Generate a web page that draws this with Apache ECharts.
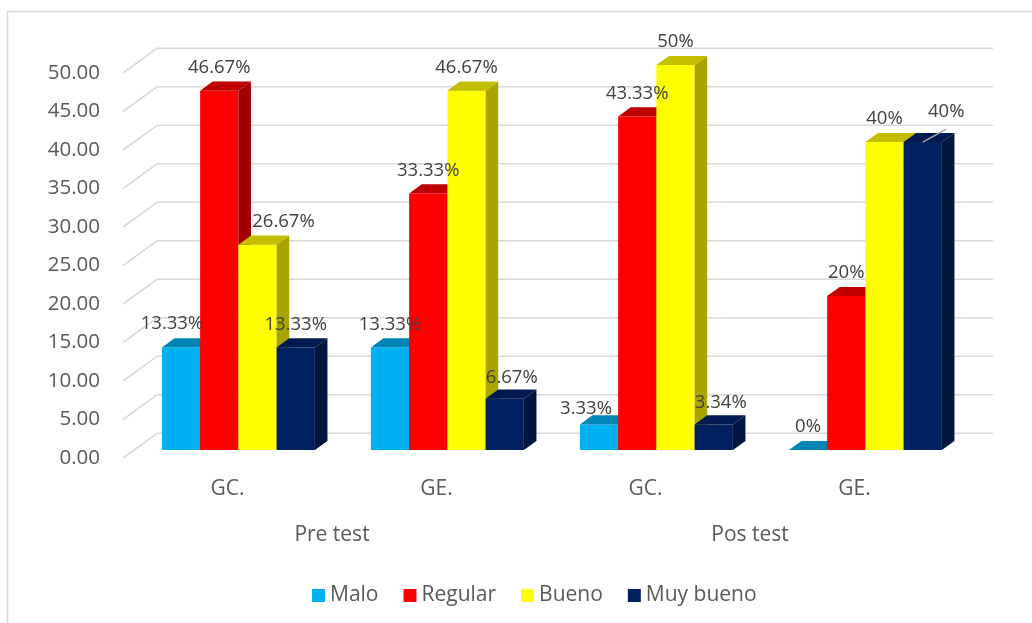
<!DOCTYPE html>
<html>
<head>
<meta charset="utf-8">
<title>Pre test / Pos test</title>
<script src="https://cdn.jsdelivr.net/npm/echarts@6/dist/echarts.min.js"></script>
<style>
  html, body { margin: 0; padding: 0; background: #ffffff; }
  #chart { width: 1032px; height: 623px; }
</style>
</head>
<body>
<div id="chart"></div>
<script>
// ---- data ----
const categories = ['GC.', 'GE.', 'GC.', 'GE.'];
const phases = ['Pre test', 'Pos test'];
const levels = ['Malo', 'Regular', 'Bueno', 'Muy bueno'];
const malo = [13.33, 13.33, 3.33, 0];
const regular = [46.67, 33.33, 43.33, 20];
const bueno = [26.67, 46.67, 50, 40];
const muyBueno = [13.33, 6.67, 3.34, 40];
const yMin = 0, yMax = 50, yStep = 5;

// ---- look ----
const FONT = '"Open Sans", "Noto Sans", sans-serif';
const TEXT = '#595959';
const LABEL = '#404040';
const GRID_LINE = '#d9d9d9';
// faces: front, top, side
const palette = [
  ['#00B0F0', '#0085B5', '#006E98'],
  ['#FF0000', '#C00000', '#A00000'],
  ['#FFFF00', '#C4BE00', '#A9A400'],
  ['#002060', '#001A4F', '#00163F']
];
// oblique depth vector of the floor (px) and where bars sit inside it
const DEPTH = [34, -24.7];
const D_FRONT = 0.32, D_BACK = 0.69;
const BAR_FRAC = 0.183;
// hand-placed labels: key "series-category" -> [dx, dy, leader]
const labelNudge = {
  '0-0': [-9, -1],
  '2-0': [26, 0],
  '3-1': [7, 2],
  '0-2': [-13, 7],
  '3-2': [7, 1],
  '3-3': [23.5, -7, true]
};

const seriesValues = [malo, regular, bueno, muyBueno];
const yTicks = [];
for (let v = yMin; v <= yMax + 1e-9; v += yStep) yTicks.push(v);

// back wall and side wall gridlines
function wallRenderer(params, api) {
  const cs = params.coordSys;
  const y = api.coord([0, api.value(1)])[1];
  const bx = cs.x + DEPTH[0], by = y + DEPTH[1];
  return {
    type: 'group',
    children: [
      { type: 'line', shape: { x1: cs.x, y1: y, x2: bx, y2: by },
        style: { stroke: GRID_LINE, lineWidth: 1.6 } },
      { type: 'line', shape: { x1: bx, y1: by, x2: cs.x + cs.width + DEPTH[0], y2: by },
        style: { stroke: GRID_LINE, lineWidth: 1.6 } }
    ]
  };
}

function barRenderer(sIdx) {
  const [cFront, cTop, cSide] = palette[sIdx];
  return function (params, api) {
    const cat = api.value(0), val = api.value(1);
    const base = api.coord([cat, 0]);
    const top = api.coord([cat, val]);
    const band = api.size([1, 0])[0];
    const bw = band * BAR_FRAC;
    const x0 = base[0] - 2 * bw + sIdx * bw;
    const x1 = x0 + bw;
    const fx = DEPTH[0] * D_FRONT, fy = DEPTH[1] * D_FRONT;
    const bx = DEPTH[0] * D_BACK, by = DEPTH[1] * D_BACK;
    const yT = top[1], yB = base[1];
    const children = [];
    if (yB - yT > 0.01) {
      children.push({ type: 'polygon', shape: { points: [
        [x0 + fx, yT + fy], [x1 + fx, yT + fy], [x1 + fx, yB + fy], [x0 + fx, yB + fy]] },
        style: { fill: cFront } });
      children.push({ type: 'polygon', shape: { points: [
        [x1 + fx, yT + fy], [x1 + bx, yT + by], [x1 + bx, yB + by], [x1 + fx, yB + fy]] },
        style: { fill: cSide } });
    }
    children.push({ type: 'polygon', shape: { points: [
      [x0 + fx, yT + fy], [x1 + fx, yT + fy], [x1 + bx, yT + by], [x0 + bx, yT + by]] },
      style: { fill: cTop } });

    const nudge = labelNudge[sIdx + '-' + cat] || [0, 0];
    const lx = (x0 + x1) / 2 + fx + nudge[0];
    const ly = yT + fy - 23 + nudge[1];
    if (nudge[2]) {
      children.push({ type: 'line', z2: 90, shape: {
        x1: (x0 + x1) / 2 + fx, y1: yT + fy, x2: lx, y2: ly + 17 },
        style: { stroke: '#a6a6a6', lineWidth: 1.5 } });
    }
    children.push({ type: 'text', z2: 100, style: {
      text: val + '%', x: lx, y: ly, align: 'center', verticalAlign: 'middle',
      fontSize: 18.5, fontFamily: FONT, fill: LABEL } });
    return { type: 'group', children };
  };
}

const chart = echarts.init(document.getElementById('chart'), null, { renderer: 'canvas' });

const series = [{
  name: 'wall', type: 'custom', renderItem: wallRenderer, clip: false,
  silent: true, z: 1,
  data: yTicks.map(v => [0, v])
}];
levels.forEach((name, i) => {
  series.push({
    name, type: 'custom', renderItem: barRenderer(i), clip: false, z: 2,
    itemStyle: { color: palette[i][0] },
    data: seriesValues[i].map((v, c) => [c, v])
  });
});

chart.setOption({
  animation: false,
  textStyle: { fontFamily: FONT },
  graphic: [{
    type: 'rect', silent: true,
    shape: { x: 7.5, y: 11.5, width: 1100, height: 700 },
    style: { fill: 'none', stroke: '#d9d9d9', lineWidth: 1.5 }
  }],
  grid: { left: 123, right: 73, top: 73, bottom: 165 },
  xAxis: [{
    type: 'category', data: categories, position: 'bottom',
    axisLine: { show: false }, axisTick: { show: false }, splitLine: { show: false },
    axisLabel: { margin: 21, fontSize: 21, color: TEXT, fontFamily: FONT }
  }, {
    type: 'category', data: phases, position: 'bottom',
    axisLine: { show: false }, axisTick: { show: false }, splitLine: { show: false },
    axisLabel: { margin: 67, fontSize: 21, color: TEXT, fontFamily: FONT }
  }],
  yAxis: {
    type: 'value', min: yMin, max: yMax, interval: yStep,
    axisLine: { show: false }, axisTick: { show: false }, splitLine: { show: false },
    axisLabel: { margin: 23, fontSize: 20.5, color: TEXT, fontFamily: FONT,
      formatter: v => v.toFixed(2) }
  },
  legend: {
    data: levels, left: 307, top: 580, icon: 'rect',
    itemWidth: 13, itemHeight: 13, itemGap: 25,
    textStyle: { fontSize: 21, color: TEXT, fontFamily: FONT }
  },
  series
});
</script>
</body>
</html>
